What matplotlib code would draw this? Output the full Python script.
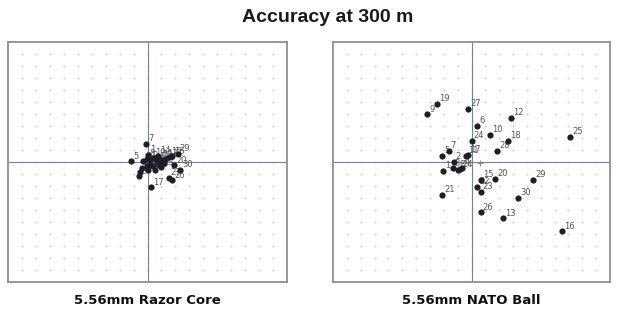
import numpy as np
from matplotlib import pyplot as plt

# shot positions in grid divisions from the aim point (centre of target)
razor_labels = [7, 1, 5, 14, 29, 20, 30, 27, 26, 17, 23,
                2, 3, 4, 6, 8, 9, 10, 11, 12, 13, 15, 16, 18, 19, 21, 22, 24, 25, 28]
razor_x = [-0.12, 0.07, -1.18, 0.72, 2.16, 1.92, 2.35, 1.51, 1.75, 0.24, 0.98,
           -0.53, -0.60, -0.41, -0.29, -0.05, 0.19, 0.43, 0.67, 0.91, 1.27, 1.51, 1.75,
           0.19, 0.43, -0.05, 0.07, 0.79, 1.15, 0.55]
razor_y = [1.53, 0.61, 0.06, 0.53, 0.67, -0.28, -0.64, -1.33, -1.53, -2.11, -0.44,
           -0.86, -1.19, -0.53, 0.06, 0.25, 0.14, 0.33, 0.06, 0.19, 0.25, 0.42, 0.47,
           -0.22, -0.36, -0.36, -0.64, -0.22, -0.08, -0.64]
razor_mean = (0.6, -0.15)

nato_labels = [19, 9, 27, 12, 6, 10, 24, 18, 25, 7, 5, 17, 11, 28, 2,
               1, 3, 8, 14, 4, 15, 20, 29, 22, 23, 21, 30, 26, 13, 16]
nato_x = [-2.48, -3.18, -0.22, 2.82, 0.43, 1.37, 0.00, 2.65, 7.11, -1.66, -2.12, -0.24, -0.39, 1.83, -1.28,
          -2.05, -1.37, -0.99, -0.80, -0.65, 0.67, 1.73, 4.43, 0.39, 0.65, -2.12, 3.37, 0.65, 2.31, 6.55]
nato_y = [4.83, 3.97, 4.44, 3.67, 3.03, 2.25, 1.78, 1.78, 2.08, 0.94, 0.50, 0.61, 0.53, 0.92, 0.03,
          -0.72, -0.53, -0.67, -0.61, -0.50, -1.50, -1.39, -1.50, -2.08, -2.47, -2.75, -3.00, -4.19, -4.69, -5.78]
nato_mean = (0.6, -0.05)

panel_titles = ['5.56mm Razor Core', '5.56mm NATO Ball']


def draw_target(ax, xs, ys, labels, mean, caption):
    """Рисует одну мишень с точками попаданий."""
    ax.set_xlim(-10, 10)
    ax.set_ylim(-10, 10)
    ax.set_xticks([])
    ax.set_yticks([])
    for s in ax.spines.values():
        s.set_color('#8d8f9c')
        s.set_linewidth(1.3)

    # dotted grid at each division
    gx, gy = np.meshgrid(np.arange(-9, 10), np.arange(-9, 10))
    ax.scatter(gx.ravel(), gy.ravel(), s=2.0, color='#cfcfcf', lw=0, zorder=1)

    ax.axhline(0, color='#7b8098', lw=0.8, zorder=2)
    ax.axvline(0, color='#7b8098', lw=0.8, zorder=2)

    for lab, x, y in zip(labels, xs, ys):
        ax.annotate(str(lab), (x, y), xytext=(1.5, 0.5), textcoords='offset points',
                    ha='left', va='bottom', fontsize=6, color='#555555', zorder=3)
    ax.scatter(xs, ys, s=20, color='#1e1e28', lw=0, zorder=4)
    ax.plot(mean[0], mean[1], marker='+', ms=5, mew=0.7, color='#888888', zorder=3)

    ax.text(0.5, -0.079, caption, transform=ax.transAxes, ha='center', va='center',
            fontsize=9.5, fontweight='bold', color='#111111')


fig = plt.figure(figsize=(6.2, 3.14), dpi=100)
ax1 = fig.add_axes([8 / 620, 1 - 282 / 314, 279 / 620, 240 / 314])
ax2 = fig.add_axes([333 / 620, 1 - 282 / 314, 277 / 620, 240 / 314])

draw_target(ax1, razor_x, razor_y, razor_labels, razor_mean, panel_titles[0])
draw_target(ax2, nato_x, nato_y, nato_labels, nato_mean, panel_titles[1])

fig.text(328 / 620, 1 - 17 / 314, 'Accuracy at 300 m', ha='center', va='center',
         fontsize=14, fontweight='bold', family='Liberation Sans', color='#1a1a1a')

fig.savefig('out.png', dpi=100)
